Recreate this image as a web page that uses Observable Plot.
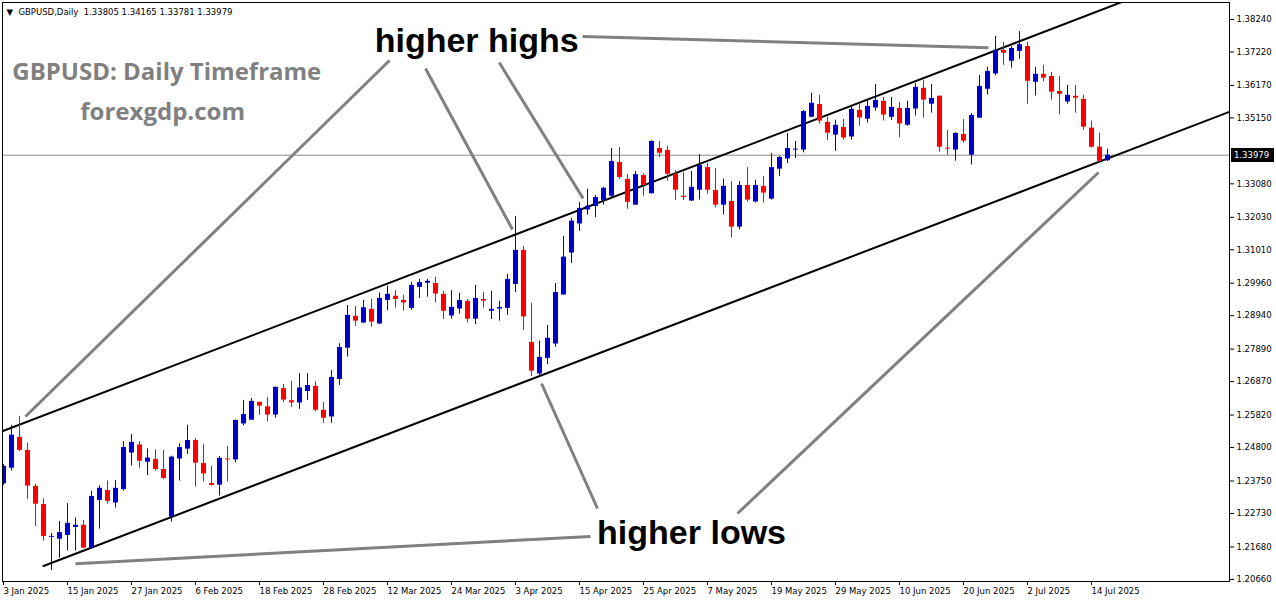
<!DOCTYPE html>
<html><head><meta charset="utf-8">
<script src="https://cdn.jsdelivr.net/npm/d3@7"></script>
<script src="https://cdn.jsdelivr.net/npm/@observablehq/plot@0.6"></script>
<style>
html,body{margin:0;padding:0;background:#fff;}
#chart{width:1276px;height:604px;overflow:hidden;}
</style></head><body><div id="chart"></div>
<script>
const symbol = "GBPUSD,Daily";
const firstDay = Date.UTC(2025, 0, 3), endDay = Date.UTC(2025, 6, 17);

const open = [1.2366,1.2415,1.2512,1.2471,1.2358,1.2301,1.2198,1.2192,1.2204,1.2229,
1.2236,1.2164,1.2314,1.2345,1.2306,1.2348,1.2463,1.2488,1.2434,1.2443,
1.2411,1.2262,1.2444,1.2475,1.2502,1.2430,1.2367,1.2362,1.2444,1.2441,
1.2554,1.2566,1.2622,1.2608,1.2582,1.2665,1.2627,1.2620,1.2656,1.2672,
1.2597,1.2576,1.2694,1.2792,1.2892,1.2871,1.2914,1.2868,1.2942,1.2955,
1.2942,1.2917,1.2983,1.2996,1.2995,1.2961,1.2893,1.2915,1.2939,1.2883,
1.2945,1.2908,1.2915,1.2917,1.2992,1.3099,1.2810,1.2711,1.2760,1.2805,
1.2959,1.3091,1.3182,1.3226,1.3237,1.3256,1.3269,1.3375,1.3322,1.3241,
1.3334,1.3277,1.3419,1.3413,1.3338,1.3269,1.3254,1.3288,1.3359,1.3287,
1.3241,1.3253,1.3172,1.3303,1.3251,1.3300,1.3260,1.3354,1.3386,1.3414,
1.3414,1.3517,1.3557,1.3501,1.3461,1.3485,1.3455,1.3539,1.3511,1.3546,
1.3567,1.3517,1.3545,1.3492,1.3543,1.3608,1.3558,1.3583,1.3420,1.3414,
1.3463,1.3398,1.3514,1.3605,1.3653,1.3727,1.3693,1.3724,1.3739,1.3627,
1.3652,1.3645,1.3598,1.3565,1.3583,1.3573,1.3483,1.3423,1.33805];

const high = [1.2427,1.2550,1.2578,1.2494,1.2365,1.2319,1.2210,1.2248,1.2304,1.2259,
1.2251,1.2343,1.2360,1.2375,1.2377,1.2499,1.2521,1.2498,1.2476,1.2473,
1.2471,1.2453,1.2492,1.2550,1.2508,1.2489,1.2421,1.2452,1.2483,1.2567,
1.2628,1.2634,1.2623,1.2637,1.2670,1.2678,1.2688,1.2712,1.2712,1.2687,
1.2621,1.2722,1.2806,1.2926,1.2923,1.2942,1.2945,1.2965,1.2987,1.2973,
1.2958,1.2998,1.3008,1.3008,1.3015,1.2970,1.2973,1.2964,1.2945,1.2989,
1.2967,1.2971,1.2939,1.3024,1.3206,1.3111,1.2933,1.2814,1.2863,1.2995,
1.3143,1.3199,1.3250,1.3291,1.3272,1.3297,1.3419,1.3422,1.3337,1.3347,
1.3340,1.3443,1.3441,1.3425,1.3350,1.3344,1.3347,1.3400,1.3372,1.3356,
1.3323,1.3315,1.3315,1.3359,1.3319,1.3331,1.3403,1.3394,1.3466,1.3441,
1.3538,1.3592,1.3586,1.3517,1.3508,1.3510,1.3554,1.3557,1.3573,1.3620,
1.3579,1.3579,1.3564,1.3567,1.3623,1.3633,1.3620,1.3584,1.3476,1.3469,
1.3510,1.3529,1.3648,1.3674,1.3771,1.3752,1.3739,1.3786,1.3752,1.3674,
1.3680,1.3658,1.3645,1.3617,1.3617,1.3586,1.3505,1.3467,1.34165];

const low = [1.2361,1.2406,1.2468,1.2317,1.2232,1.2186,1.2094,1.2133,1.2155,1.2155,
1.2162,1.2163,1.2224,1.2302,1.2290,1.2343,1.2422,1.2415,1.2392,1.2406,
1.2380,1.2246,1.2375,1.2458,1.2356,1.2372,1.2359,1.2328,1.2372,1.2432,
1.2548,1.2565,1.2581,1.2561,1.2572,1.2621,1.2606,1.2600,1.2628,1.2593,
1.2556,1.2556,1.2675,1.2764,1.2861,1.2869,1.2858,1.2866,1.2910,1.2918,
1.2908,1.2911,1.2948,1.2952,1.2934,1.2882,1.2883,1.2899,1.2871,1.2866,
1.2918,1.2882,1.2877,1.2895,1.2967,1.2848,1.2703,1.2701,1.2740,1.2795,
1.2958,1.3058,1.3159,1.3210,1.3202,1.3241,1.3262,1.3322,1.3228,1.3241,
1.3269,1.3275,1.3390,1.3316,1.3256,1.3256,1.3253,1.3257,1.3276,1.3232,
1.3210,1.3138,1.3163,1.3251,1.3248,1.3248,1.3257,1.3331,1.3372,1.3388,
1.3405,1.3517,1.3496,1.3444,1.3410,1.3445,1.3445,1.3489,1.3499,1.3536,
1.3505,1.3507,1.3453,1.3489,1.3521,1.3514,1.3530,1.3407,1.3398,1.3379,
1.3436,1.3367,1.3514,1.3587,1.3647,1.3680,1.3671,1.3699,1.3558,1.3584,
1.3629,1.3571,1.3524,1.3558,1.3530,1.3476,1.3420,1.3373,1.33781];

const close = [1.2421,1.2519,1.2471,1.2359,1.2302,1.2201,1.2201,1.2213,1.2242,1.2236,
1.2164,1.2326,1.2352,1.2311,1.2352,1.2480,1.2496,1.2437,1.2447,1.2411,
1.2383,1.2450,1.2480,1.2502,1.2431,1.2397,1.2361,1.2446,1.2441,1.2565,
1.2584,1.2625,1.2610,1.2582,1.2669,1.2629,1.2620,1.2667,1.2675,1.2597,
1.2572,1.2700,1.2794,1.2895,1.2877,1.2919,1.2874,1.2948,1.2961,1.2945,
1.2934,1.2989,1.2998,1.3002,1.2962,1.2908,1.2920,1.2942,1.2883,1.2948,
1.2940,1.2914,1.2920,1.3008,1.3099,1.2890,1.2720,1.2763,1.2823,1.2967,
1.3078,1.3191,1.3231,1.3238,1.3265,1.3294,1.3378,1.3328,1.3250,1.3337,
1.3303,1.3441,1.3404,1.3338,1.3288,1.3265,1.3297,1.3366,1.3288,1.3241,
1.3300,1.3172,1.3303,1.3257,1.3303,1.3279,1.3359,1.3391,1.3419,1.3417,
1.3535,1.3561,1.3505,1.3467,1.3492,1.3452,1.3542,1.3515,1.3551,1.3570,
1.3524,1.3548,1.3496,1.3545,1.3611,1.3571,1.3576,1.3423,1.3417,1.3466,
1.3442,1.3523,1.3614,1.3661,1.3727,1.3718,1.3733,1.3745,1.3630,1.3652,
1.3640,1.3596,1.3589,1.3586,1.3577,1.3486,1.3423,1.3379,1.33979];

// price-axis labels (the 1.34110 level is hidden behind the current-price box in the reference)
const yTicks = [1.38240,1.37220,1.36170,1.35150,1.33080,1.32030,1.31010,1.29960,
1.28940,1.27890,1.26870,1.25820,1.24800,1.23750,1.22730,1.21680,1.20660];

const xTickLabels = ["3 Jan 2025","15 Jan 2025","27 Jan 2025","6 Feb 2025","18 Feb 2025",
"28 Feb 2025","12 Mar 2025","24 Mar 2025","3 Apr 2025","15 Apr 2025","25 Apr 2025",
"7 May 2025","19 May 2025","29 May 2025","10 Jun 2025","20 Jun 2025","2 Jul 2025","14 Jul 2025"];

// channel trend lines: anchor points (bar index, price)
const channelName = ["upper","upper","lower","lower"];
const channelBar  = [-1, 145, 5, 160];
const channelPrice = [1.2523, 1.3929, 1.2108, 1.3599];

// grey pointer lines from the labels to the swing points (bar index, price)
const ptrBar1 = [48.25, 52.75, 61.96, 72.375, 74.25, 73.375, 91.75];
const ptrP1   = [1.36953, 1.36702, 1.36890, 1.37707, 1.22886, 1.22007, 1.22729];
const ptrBar2 = [2.75, 63.625, 72.46, 123.125, 67.25, 9.0, 136.875];
const ptrP2   = [1.25775, 1.31646, 1.32620, 1.37352, 1.26811, 1.21150, 1.33436];

const noteText = ["GBPUSD: Daily Timeframe","forexgdp.com","higher highs","higher lows"];
const noteBar  = [1.1, 9.6, 46.4, 74.2];
const notePrice= [1.36325, 1.35069, 1.37235, 1.21787];

const BLUE = "#0000cd", RED = "#ff0000", GREY = "#808080";

const dates = d3.utcDay.range(new Date(firstDay), new Date(endDay))
  .filter(d => d.getUTCDay() !== 0 && d.getUTCDay() !== 6);
const fmtDate = d3.utcFormat("%-d %b %Y");
const data = open.map((o, i) => ({i, date: dates[i], open: o, high: high[i], low: low[i], close: close[i]}));
const bull = data.filter(d => d.close >= d.open);
const bear = data.filter(d => d.close < d.open);
const xTickIdx = xTickLabels.map(l => dates.findIndex(d => fmtDate(d) === l));

const channels = channelName.map((n, k) => ({name: n, i: channelBar[k], p: channelPrice[k]}));
const pointers = ptrBar1.map((b, k) => ({x1: b, y1: ptrP1[k], x2: ptrBar2[k], y2: ptrP2[k]}));
const notes = noteText.map((t, k) => ({text: t, i: noteBar[k], p: notePrice[k]}));

const n = data.length - 1;
const f5 = v => v.toFixed(5);
const header = "\u25BC\u00a0\u00a0" + symbol + "\u00a0\u00a0" + [open[n], high[n], low[n], close[n]].map(f5).join(" ");

const plot = Plot.plot({
  width: 1276, height: 604,
  marginLeft: 2, marginRight: 47, marginTop: 2, marginBottom: 23,
  x: {type: "linear", domain: [-0.125, 153.25]},
  y: {domain: [1.20594, 1.38774]},
  style: {fontFamily: "DejaVu Sans", fontSize: "8.5px", background: "white", color: "black"},
  marks: [
    Plot.ruleY([close[n]], {stroke: "#8c8c8c", strokeWidth: 1}),
    Plot.line(channels, {x: "i", y: "p", z: "name", stroke: "black", strokeWidth: 2, clip: true}),
    Plot.link(pointers, {x1: "x1", y1: "y1", x2: "x2", y2: "y2", stroke: GREY, strokeWidth: 3, clip: true}),
    Plot.ruleX(bull, {x: "i", y1: "low", y2: "high", stroke: BLUE, strokeWidth: 1, clip: true}),
    Plot.ruleX(bear, {x: "i", y1: "low", y2: "high", stroke: RED, strokeWidth: 1, clip: true}),
    Plot.ruleX(bull, {x: "i", y1: "open", y2: "close", stroke: BLUE, strokeWidth: 5, clip: true}),
    Plot.ruleX(bear, {x: "i", y1: "open", y2: "close", stroke: RED, strokeWidth: 5, clip: true}),
    Plot.text(notes.slice(0, 2), {x: "i", y: "p", text: "text", textAnchor: "start", lineAnchor: "bottom",
      fontFamily: "Open Sans", fontWeight: "bold", fontSize: 24, fill: GREY}),
    Plot.text(notes.slice(2), {x: "i", y: "p", text: "text", textAnchor: "start", lineAnchor: "bottom",
      fontFamily: "Liberation Sans", fontWeight: "bold", fontSize: 34, fill: "black"}),
    Plot.text([header], {frameAnchor: "top-left", dx: 4, dy: 12, lineAnchor: "bottom", textAnchor: "start", fontSize: 8.5, fill: "black"}),
    Plot.frame({stroke: "black"}),
    Plot.axisY({anchor: "right", ticks: yTicks, tickFormat: f5, tickSize: 4, tickPadding: 3}),
    Plot.axisX({ticks: xTickIdx, tickFormat: i => xTickLabels[xTickIdx.indexOf(i)], tickSize: 4, tickPadding: 2, textAnchor: "start", dx: 0})
  ]
});

// current price label box on the price axis
const ys = plot.scale("y"), xs = plot.scale("x");
const py = ys.apply(close[n]);
const bx = xs.range[1] + 2;
const svg = d3.select(plot);
svg.append("rect").attr("x", bx).attr("y", Math.round(py) - 7).attr("width", 43).attr("height", 14).attr("fill", "black");
svg.append("text").attr("x", bx + 3).attr("y", py).attr("dy", "0.35em").attr("fill", "white")
  .attr("text-anchor", "start").attr("font-family", "DejaVu Sans").attr("font-size", "8.5px").text(f5(close[n]));

document.getElementById("chart").appendChild(plot);
</script></body></html>
